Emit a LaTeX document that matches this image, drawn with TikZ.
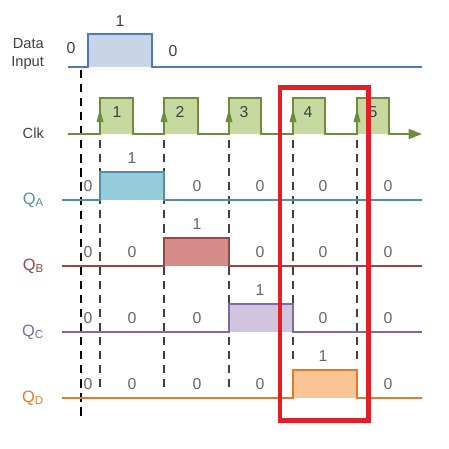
\documentclass[tikz,border=0pt]{standalone}
\usepackage{fontspec}
\setmainfont{Liberation Sans}
\usepackage{tikz}
\usetikzlibrary{arrows.meta}
\definecolor{datline}{RGB}{79,120,190}
\definecolor{datfill}{RGB}{200,212,232}
\definecolor{clkline}{RGB}{110,140,60}
\definecolor{clkfill}{RGB}{198,218,160}
\definecolor{qaline}{RGB}{80,145,165}
\definecolor{qafill}{RGB}{150,205,220}
\definecolor{qbline}{RGB}{150,70,70}
\definecolor{qbfill}{RGB}{215,140,138}
\definecolor{qcline}{RGB}{130,105,165}
\definecolor{qcfill}{RGB}{208,196,222}
\definecolor{qdline}{RGB}{230,120,40}
\definecolor{qdfill}{RGB}{250,196,150}
\definecolor{boxred}{RGB}{228,30,38}

\begin{document}
\begin{tikzpicture}[x=0.03cm,y=-0.03cm,
    sig/.style={line width=1.4pt},
    tick/.style={dash pattern=on 7pt off 5pt,line width=1.1pt,color=black!75},
    val/.style={text=black!60,font=\fontsize{13.5}{14}\selectfont},
    lbl/.style={anchor=east,text=black!75,font=\fontsize{12.5}{13}\selectfont},
    qlbl/.style={anchor=east,font=\fontsize{14}{14}\selectfont}]
    \useasboundingbox (0,0) rectangle (449,448);

    % dashed guide lines
    \draw[tick,color=black,line width=1.2pt] (81,70) -- (81,420);
    \draw[tick] (100,140) -- (100,390);
    \draw[tick] (164,140) -- (164,390);
    \draw[tick] (229,140) -- (229,390);
    \draw[tick] (293,140) -- (293,363);
    \draw[tick] (357,140) -- (357,363);

    % data input
    \fill[datfill] (88,34) rectangle (152,67);
    \draw[sig,color=datline] (68,67) -- (88,67) -- (88,34) -- (152,34) -- (152,67) -- (422,67);
    \node[lbl] (data) at (48,44) {Data};
    \node[lbl] (input) at (48,63) {Input};
    \node[val,text=black!75] (d1) at (120,21) {1};
    \node[val,text=black!75] (d0a) at (71,48) {0};
    \node[val,text=black!75] (d0b) at (173,51) {0};

    % clock
    \foreach \r/\f in {100/133,164/198,229/261,293/325,357/389}
        \fill[clkfill] (\r,98) rectangle (\f,134);
    \draw[sig,color=clkline,-{Triangle[length=0.4cm,width=0.3cm]}] (68,134) -- (100,134) -- (100,98) -- (133,98) -- (133,134)
        -- (164,134) -- (164,98) -- (198,98) -- (198,134)
        -- (229,134) -- (229,98) -- (261,98) -- (261,134)
        -- (293,134) -- (293,98) -- (325,98) -- (325,134)
        -- (357,134) -- (357,98) -- (389,98) -- (389,134) -- (422,134);
    \foreach \r in {100,164,229,293,357}
        \fill[clkline] (\r-3.5,122) -- (\r,109) -- (\r+3.5,122) -- cycle;
    \foreach \n/\x in {1/117,2/180,3/244,4/308,5/373}
        \node[val,text=black!75] (c\n) at (\x,112) {\n};
    \node[lbl] (clk) at (48,133) {Clk};

    % flip-flop outputs
    \foreach \yb/\xa/\xb/\col/\nm [count=\k] in {200/100/164/qa/A,266/164/229/qb/B,332/229/293/qc/C,398/293/357/qd/D} {
        \fill[\col fill] (\xa,\yb-28) rectangle (\xb,\yb);
        \draw[sig,color=\col line] (62,\yb) -- (\xa,\yb) -- (\xa,\yb-28) -- (\xb,\yb-28) -- (\xb,\yb) -- (422,\yb);
        \node[qlbl,text=\col line] (q\nm) at (48,\yb) {Q\textsubscript{\nm}};
        \foreach \c/\vx in {0/88,1/132,2/197,3/260,4/323,5/388} {
            \ifnum\c=\k
                \node[val] (v\nm\c) at (\vx,\yb-42) {1};
            \else
                \node[val] (v\nm\c) at (\vx,\yb-14) {0};
            \fi
        }
    }

    % highlight
    \draw[boxred,line width=3.6pt] (280,87.5) rectangle (368.5,420.5);
\end{tikzpicture}
\end{document}
